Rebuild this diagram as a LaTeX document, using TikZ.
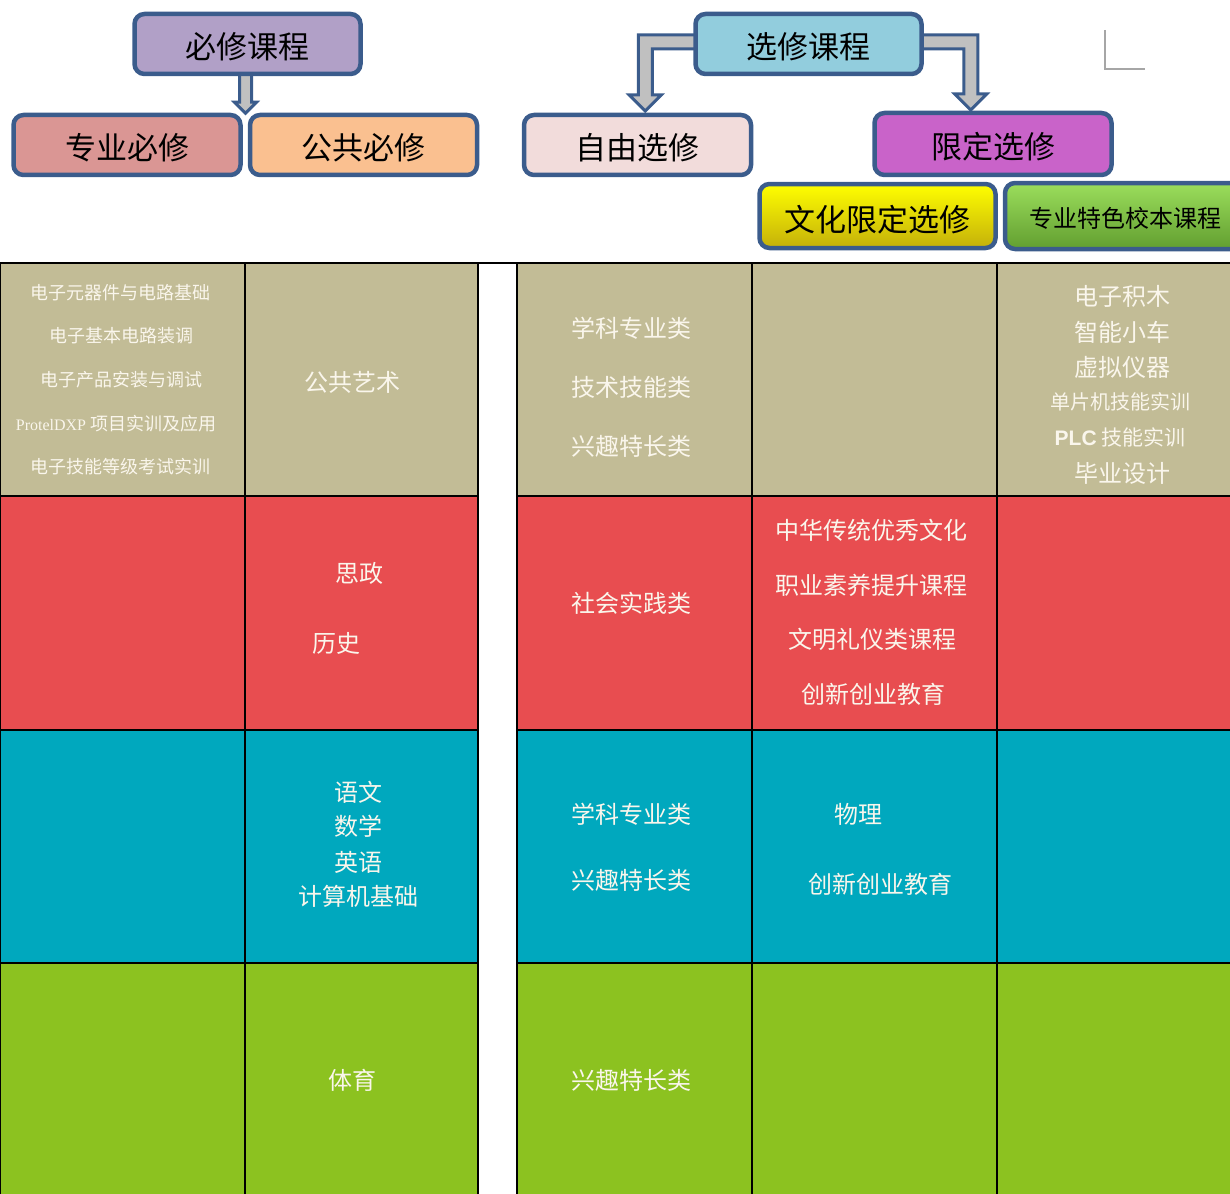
\documentclass[tikz,border=0pt]{standalone}
\usepackage{fontspec}
\setmainfont{Noto Sans CJK SC}
\newfontfamily\serifl{Liberation Serif}
\newfontfamily\sansl{Liberation Sans}
\usetikzlibrary{calc}
\pgfdeclarelayer{bglayer}
\pgfdeclarelayer{midlayer}
\pgfsetlayers{bglayer,midlayer,main}
\definecolor{tanc}{RGB}{194,188,150}
\definecolor{redc}{RGB}{232,77,80}
\definecolor{tealc}{RGB}{0,168,190}
\definecolor{greenc}{RGB}{140,194,32}
\definecolor{bord}{RGB}{59,92,140}
\definecolor{purp}{RGB}{177,160,199}
\definecolor{pinkc}{RGB}{218,150,148}
\definecolor{orangec}{RGB}{250,192,144}
\definecolor{lblue}{RGB}{146,205,221}
\definecolor{lpink}{RGB}{242,220,219}
\definecolor{magc}{RGB}{201,99,201}
\definecolor{yelt}{RGB}{255,255,0}
\definecolor{yelb}{RGB}{196,176,10}
\definecolor{grnt}{RGB}{155,222,92}
\definecolor{grnb}{RGB}{98,158,48}
\definecolor{arrg}{RGB}{192,192,192}
\definecolor{creamc}{RGB}{250,246,236}
\begin{document}
\begin{tikzpicture}[x=1pt,y=-1pt,
  hbox/.style={draw=bord, line width=4.5pt, rounded corners=10pt, inner sep=0pt, text=black,
    font=\fontsize{31}{31}\selectfont, text height=30pt, text depth=0pt},
  fatarrow/.style={draw=bord, line width=3pt, fill=arrg, line join=miter},
  ctext/.style={text=creamc, inner sep=0pt, font=\fontsize{24}{24}\selectfont},
  stext/.style={text=creamc, inner sep=0pt, font=\fontsize{18}{18}\selectfont},
  mtext/.style={text=creamc, inner sep=0pt, font=\fontsize{20}{20}\selectfont},
  cell/.style={draw=black, line width=1.6pt}]
\useasboundingbox (0,0) rectangle (1230,1193);
\clip (0,0) rectangle (1230,1193);

% ---------- table ----------
\begin{pgfonlayer}{bglayer}
\path[cell, fill=tanc]   (0,263) rectangle (245,496);
\path[cell, fill=tanc]   (245,263) rectangle (478,496);
\path[cell, fill=redc]   (0,496) rectangle (245,730);
\path[cell, fill=redc]   (245,496) rectangle (478,730);
\path[cell, fill=tealc]  (0,730) rectangle (245,963);
\path[cell, fill=tealc]  (245,730) rectangle (478,963);
\path[cell, fill=greenc] (0,963) rectangle (245,1195);
\path[cell, fill=greenc] (245,963) rectangle (478,1195);
\path[cell, fill=tanc]   (517,263) rectangle (752,496);
\path[cell, fill=tanc]   (752,263) rectangle (997,496);
\path[cell, fill=tanc]   (997,263) rectangle (1232,496);
\path[cell, fill=redc]   (517,496) rectangle (752,730);
\path[cell, fill=redc]   (752,496) rectangle (997,730);
\path[cell, fill=redc]   (997,496) rectangle (1232,730);
\path[cell, fill=tealc]  (517,730) rectangle (752,963);
\path[cell, fill=tealc]  (752,730) rectangle (997,963);
\path[cell, fill=tealc]  (997,730) rectangle (1232,963);
\path[cell, fill=greenc] (517,963) rectangle (752,1195);
\path[cell, fill=greenc] (752,963) rectangle (997,1195);
\path[cell, fill=greenc] (997,963) rectangle (1232,1195);
\draw[black, line width=2pt] (0,263) -- (1230,263);
\end{pgfonlayer}

% ---------- table texts ----------
\node[stext] (a1) at (120,293) {电子元器件与电路基础};
\node[stext] (a2) at (121,336) {电子基本电路装调};
\node[stext] (a3) at (121,380) {电子产品安装与调试};
\node[stext] (a4) at (116,424) {{\serifl\fontsize{16}{16}\selectfont ProtelDXP} 项目实训及应用};
\node[stext] (a5) at (120,467) {电子技能等级考试实训};
\node[ctext] (b1) at (352,382) {公共艺术};
\node[ctext] (c1) at (631,328) {学科专业类};
\node[ctext] (c2) at (631,387) {技术技能类};
\node[ctext] (c3) at (631,446) {兴趣特长类};
\node[ctext] (e1) at (1122,296) {电子积木};
\node[ctext] (e2) at (1122,332) {智能小车};
\node[ctext] (e3) at (1122,367) {虚拟仪器};
\node[mtext] (e4) at (1120,402) {单片机技能实训};
\node[text=creamc, inner sep=0pt, font=\fontsize{21}{21}\selectfont] (e5) at (1120,437) {{\sansl\bfseries PLC} 技能实训};
\node[ctext] (e6) at (1122,473) {毕业设计};

\node[ctext] (b2) at (359,573) {思政};
\node[ctext] (b3) at (336,643) {历史};
\node[ctext] (c4) at (631,603) {社会实践类};
\node[ctext] (d1) at (871,530) {中华传统优秀文化};
\node[ctext] (d2) at (871,585) {职业素养提升课程};
\node[ctext] (d3) at (872,639) {文明礼仪类课程};
\node[ctext] (d4) at (873,694) {创新创业教育};

\node[ctext] (b4) at (358,792) {语文};
\node[ctext] (b5) at (358,826) {数学};
\node[ctext] (b6) at (358,862) {英语};
\node[ctext] (b7) at (358,896) {计算机基础};
\node[ctext] (c5) at (631,814) {学科专业类};
\node[ctext] (c6) at (631,880) {兴趣特长类};
\node[ctext] (d5) at (858,814) {物理};
\node[ctext] (d6) at (880,884) {创新创业教育};

\node[ctext] (b8) at (352,1080) {体育};
\node[ctext] (c7) at (631,1080) {兴趣特长类};

% ---------- header boxes ----------
\begin{pgfonlayer}{bglayer}
\node[hbox, fill=pinkc, minimum width=227pt, minimum height=60pt] (zy) at (127,145) {专业必修};
\node[hbox, fill=orangec, minimum width=227pt, minimum height=60pt] (gg) at (363.5,145) {公共必修};
\node[hbox, fill=lpink, minimum width=227pt, minimum height=60pt] (zx) at (637.5,145) {自由选修};
\node[hbox, fill=magc, minimum width=237pt, minimum height=62pt] (xd) at (993,144) {限定选修};
\end{pgfonlayer}
\node[hbox, fill=purp, minimum width=226pt, minimum height=60pt] (bx) at (247.5,44) {必修课程};
\node[hbox, fill=lblue, minimum width=226pt, minimum height=60pt] (xx) at (808.5,44) {选修课程};
\node[hbox, top color=yelt, bottom color=yelb, minimum width=236pt, minimum height=64pt] (wh) at (877.5,216) {文化限定选修};
\node[hbox, top color=grnt, bottom color=grnb, minimum width=240pt, minimum height=66pt,
  font=\fontsize{24}{24}\selectfont, text height=23pt] (ts) at (1125,216) {专业特色校本课程};

% ---------- arrows ----------
\begin{pgfonlayer}{midlayer}
\draw[fatarrow] ([xshift=-8pt, yshift=6pt]bx.south) -- ++(0,32) -- ++(-5,0) -- ++(11,11)
  -- ++(11,-11) -- ++(-5,0) -- ++(0,-32) -- cycle;
\draw[fatarrow] ([xshift=8pt, yshift=9pt]xx.west) -- ++(-63,0) -- ++(0,60) -- ++(-9,0) -- ++(16,16)
  -- ++(16,-16) -- ++(-9,0) -- ++(0,-46) -- ++(49,0) -- cycle;
\draw[fatarrow] ([xshift=-8pt, yshift=9pt]xx.east) -- ++(62,0) -- ++(0,59) -- ++(9,0) -- ++(-16,16)
  -- ++(-16,-16) -- ++(9,0) -- ++(0,-45) -- ++(-48,0) -- cycle;
\end{pgfonlayer}

% ---------- corner mark ----------
\coordinate (cm) at (1105,69);
\draw[black!35, line width=1.2pt] ([yshift=39pt]cm) -- (cm) -- ([xshift=40pt]cm);
\end{tikzpicture}
\end{document}
